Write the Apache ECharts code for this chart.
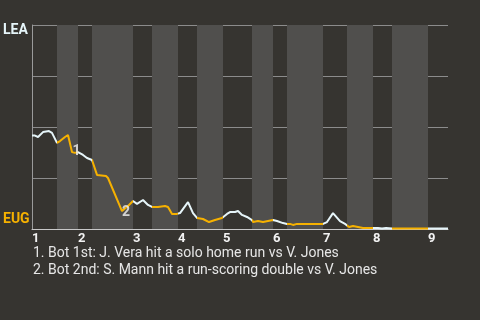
<!DOCTYPE html>
<html><head><meta charset="utf-8">
<script src="https://cdn.jsdelivr.net/npm/echarts@6/dist/echarts.min.js"></script>
<style>html,body{margin:0;padding:0;background:#363430;}#c{width:480px;height:320px;}</style>
</head><body><div id="c"></div>
<script>
// Game progress units (0..416), LEA win probability (%)
const progress = [0,3,6,11,17,20,25,28,33,36,40,43,46,51,55,60,65,74,76,90,96,101,105,111,116,120,121,126,133,136,140,145,146,148,156,161,165,171,177,183,190,191,195,198,203,206,210,215,220,221,226,231,236,241,245,251,255,258,261,265,273,291,295,301,308,313,315,317,321,326,331,341,346,350,354,356,360,396,416];
const leaWinPct = [45.8,45.8,45.1,47.5,48.0,47.1,42.2,43.1,45.1,46.1,37.7,37.3,37.7,36.3,34.8,33.8,26.5,26.0,25.0,8.8,11.3,13.7,12.3,14.2,11.8,10.8,10.3,10.8,11.3,10.8,7.4,7.4,7.8,7.8,13.2,7.8,5.4,4.9,3.4,4.4,5.4,5.9,7.4,8.3,8.3,8.8,6.9,5.9,4.4,3.4,3.9,3.4,3.9,4.4,3.9,2.9,2.5,2.5,2.0,2.5,2.5,2.5,3.4,7.8,3.9,2.5,2.0,1.0,1.5,1.0,0.5,0.5,0.5,0.2,0.5,0.2,0.2,0.2,0.2];
const topStarts = [0,46,101,146,191,241,291,341,396];
const bottomStarts = [25,60,120,165,220,255,315,360];
const gameEnd = 416;
const inningLabels = ['1','2','3','4','5','6','7','8','9'];
const teamLabels = {away:'LEA', home:'EUG'};
const markers = [[44.5,38.2,'1'],[94,8.1,'2']];
const notes = ['1. Bot 1st: J. Vera hit a solo home run vs V. Jones','2. Bot 2nd: S. Mann hit a run-scoring double vs V. Jones'];

const WHITE = '#e6f5f9', ORANGE = '#f6b100';
const bands = bottomStarts.map((s,i)=>[{xAxis:s},{xAxis: (topStarts[i+1]!==undefined?topStarts[i+1]:gameEnd)}]);
const pieces = [];
topStarts.forEach((s,i)=>{ const b = bottomStarts[i]!==undefined?bottomStarts[i]:gameEnd; pieces.push({gte:s, lt:b, color:WHITE}); if(bottomStarts[i]!==undefined){ const e = topStarts[i+1]!==undefined?topStarts[i+1]:gameEnd; pieces.push({gte:b, lt:e, color:ORANGE}); }});
pieces[pieces.length-1].lte = gameEnd; delete pieces[pieces.length-1].lt;

const chart = echarts.init(document.getElementById('c'));
chart.setOption({
  backgroundColor:'#363430',
  animation:false,
  grid:{left:32,right:32,top:25,bottom:91},
  title:{text:notes.join('\n'),left:33,top:245,padding:0,textStyle:{color:'#e6e6e6',fontSize:14,fontWeight:'normal',fontFamily:'Roboto',lineHeight:17}},
  visualMap:{show:false,type:'piecewise',dimension:0,seriesIndex:0,pieces:pieces},
  xAxis:{type:'value',min:0,max:gameEnd,
    axisLine:{show:true,lineStyle:{color:'#c8c8c8',width:1}},axisTick:{show:false},splitLine:{show:false},
    axisLabel:{customValues:topStarts,formatter:(v)=>inningLabels[topStarts.indexOf(v)]||'',align:'left',margin:3,color:'#f2f2f2',fontSize:13,fontWeight:'bold',fontFamily:'Roboto'}},
  yAxis:{type:'value',min:0,max:100,interval:25,
    axisLine:{show:true,lineStyle:{color:'#9a9a9a'}},axisTick:{show:false},
    splitLine:{show:true,lineStyle:{color:'#8c8c8c',width:1}},
    axisLabel:{margin:29,align:'left',formatter:(v)=>v===100?'{a|'+teamLabels.away+'}':(v===0?'{b|'+teamLabels.home+'}':''),
      rich:{a:{color:WHITE,fontSize:14,fontWeight:'bold',fontFamily:'Roboto',padding:[11,0,0,0]},
            b:{color:ORANGE,fontSize:14,fontWeight:'bold',fontFamily:'Roboto',padding:[0,0,20,0]}}}},
  series:[
    {type:'line',data:progress.map((x,i)=>[x,leaWinPct[i]]),symbol:'none',lineStyle:{width:2},z:3,
     markArea:{silent:true,itemStyle:{color:'#504f4d'},data:bands}},
    {type:'scatter',data:markers.map(m=>[m[0],m[1],m[2]]),symbolSize:0,z:5,
     label:{show:true,position:'inside',formatter:(p)=>p.data[2],color:'#f2f2f2',fontSize:14,fontWeight:'bold',fontFamily:'Roboto'}}
  ]
});
</script></body></html>
